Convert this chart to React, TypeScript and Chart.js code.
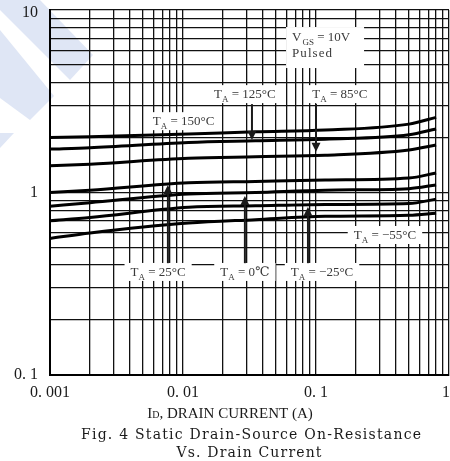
import React, { useEffect, useRef } from 'react';
import { Chart, registerables } from 'chart.js';

Chart.register(...registerables);

// ---- data ----
const currents = [0.001, 0.002, 0.011, 0.035, 0.117, 0.5, 0.8];
const r150 = [2.0, 2.02, 2.09, 2.15, 2.2, 2.37, 2.58];
const r125 = [1.73, 1.76, 1.88, 1.92, 1.96, 2.07, 2.23];
const r85 = [1.4, 1.43, 1.54, 1.57, 1.6, 1.71, 1.82];
const r25 = [1.0, 1.03, 1.13, 1.15, 1.17, 1.2, 1.28];
const r0 = [0.84, 0.88, 0.98, 1.0, 1.03, 1.05, 1.1];
const rm25 = [0.7, 0.73, 0.83, 0.845, 0.86, 0.87, 0.92];
const rm55 = [0.56, 0.6, 0.68, 0.71, 0.74, 0.75, 0.77];
const seriesNames = ['150°C', '125°C', '85°C', '25°C', '0℃', '−25°C', '−55°C'];
const seriesValues = [r150, r125, r85, r25, r0, rm25, rm55];

const xDecades = [0.001, 0.01, 0.1];
const yDecades = [0.1, 1];
const minorSteps = [1, 2, 3, 4, 5, 6, 7, 8, 9];
const xMajor = [0.001, 0.01, 0.1, 1];
const xTickLabels = ['0. 001', '0. 01', '0. 1', '1'];
const yMajor = [0.1, 1, 10];
const yTickLabels = ['0. 1', '1', '10'];

const xTitleMain = 'I';
const xTitleSub = 'D';
const xTitleRest = ', DRAIN CURRENT (A)';
const captionLines = ['Fig. 4 Static Drain-Source On-Resistance', 'Vs. Drain Current'];

// annotation anchors, in data units
const tempLabelNames = ['150°C', '125°C', '85°C', '25°C', '0℃', '−25°C', '−55°C'];
const tempLabelX = [0.0101, 0.0292, 0.151, 0.0065, 0.0292, 0.111, 0.33];
const tempLabelY = [2.46, 3.46, 3.46, 0.367, 0.367, 0.367, 0.585];
const arrowX = [0.033, 0.1, 0.0077, 0.0292, 0.087];
const arrowFrom = [3.05, 3.05, 0.41, 0.41, 0.41];
const arrowTo = [1.94, 1.67, 1.1, 0.957, 0.833];
const condX = 0.117;
const condLineY = [7.11, 5.81];

const SERIF = '"Liberation Serif", "DejaVu Serif", serif';
const WIDE_SERIF = '"DejaVu Serif", "Liberation Serif", serif';

function buildTicks(decades: number[], last: number) {
  const out: { value: number }[] = [];
  decades.forEach((d) => minorSteps.forEach((s) => out.push({ value: +(s * d).toPrecision(6) })));
  out.push({ value: last });
  return out;
}

function drawSpaced(ctx: CanvasRenderingContext2D, text: string, cx: number, y: number, target: number) {
  const anyCtx = ctx as any;
  const hasLS = 'letterSpacing' in anyCtx;
  if (hasLS) anyCtx.letterSpacing = '0px';
  const base = ctx.measureText(text).width;
  let sp = 0;
  if (hasLS && text.length > 1) {
    sp = (target - base) / (text.length - 1);
    anyCtx.letterSpacing = sp + 'px';
  }
  const w = base + sp * (text.length - 1);
  ctx.textAlign = 'left';
  ctx.fillText(text, cx - w / 2, y);
  if (hasLS) anyCtx.letterSpacing = '0px';
}

function drawTempLabel(ctx: CanvasRenderingContext2D, name: string, cx: number, cy: number) {
  ctx.font = '13px ' + SERIF;
  const wT = ctx.measureText('T').width;
  const rest = ' = ' + name;
  const wR = ctx.measureText(rest).width;
  ctx.font = '9px ' + SERIF;
  const wA = ctx.measureText('A').width;
  const total = wT + wA + wR;
  const padX = 6;
  const h = 18;
  ctx.fillStyle = '#ffffff';
  ctx.fillRect(cx - total / 2 - padX, cy - h / 2, total + padX * 2, h);
  ctx.fillStyle = '#3a3a3a';
  ctx.textBaseline = 'alphabetic';
  ctx.textAlign = 'left';
  let x = cx - total / 2;
  const base = cy + 4;
  ctx.font = '13px ' + SERIF;
  ctx.fillText('T', x, base);
  x += wT;
  ctx.font = '9px ' + SERIF;
  ctx.fillText('A', x, base + 4);
  x += wA;
  ctx.font = '13px ' + SERIF;
  ctx.fillText(rest, x, base);
}

const watermark = [
  [[0, 0], [40, 0], [93, 55], [70, 80], [0, 10]],
  [[0, 30], [54, 96], [30, 120], [0, 98]],
  [[0, 133], [14, 133], [0, 148]],
];

const overlay = {
  id: 'overlay',
  beforeDraw(chart: any) {
    const ctx: CanvasRenderingContext2D = chart.ctx;
    ctx.save();
    ctx.fillStyle = '#ffffff';
    ctx.fillRect(0, 0, chart.width, chart.height);
    ctx.fillStyle = '#dfe6f5';
    watermark.forEach((poly) => {
      ctx.beginPath();
      poly.forEach((p, i) => (i ? ctx.lineTo(p[0], p[1]) : ctx.moveTo(p[0], p[1])));
      ctx.closePath();
      ctx.fill();
    });
    ctx.restore();
  },
  afterDraw(chart: any) {
    const ctx: CanvasRenderingContext2D = chart.ctx;
    const xs = chart.scales.x;
    const ys = chart.scales.y;
    const area = chart.chartArea;
    ctx.save();

    // condition box
    const cx = xs.getPixelForValue(condX);
    const l1 = ys.getPixelForValue(condLineY[0]);
    const l2 = ys.getPixelForValue(condLineY[1]);
    ctx.fillStyle = '#ffffff';
    ctx.fillRect(cx - 39, l1 - 10, 78, l2 - l1 + 25);
    ctx.fillStyle = '#3a3a3a';
    ctx.textBaseline = 'alphabetic';
    ctx.textAlign = 'left';
    const left = cx - 33;
    ctx.font = '13px ' + SERIF;
    ctx.fillText('V', left, l1 + 4);
    const wV = ctx.measureText('V').width;
    ctx.font = '9px ' + SERIF;
    ctx.fillText('GS', left + wV + 1, l1 + 8);
    const wGS = ctx.measureText('GS').width;
    ctx.font = '13px ' + SERIF;
    ctx.fillText(' = 10V', left + wV + 1 + wGS, l1 + 4);
    drawSpaced(ctx, 'Pulsed', left + 20, l2 + 4, 40);

    // temperature labels
    tempLabelNames.forEach((n, i) => {
      drawTempLabel(ctx, n, xs.getPixelForValue(tempLabelX[i]), ys.getPixelForValue(tempLabelY[i]));
    });

    // arrows
    ctx.strokeStyle = '#1a1a1a';
    ctx.fillStyle = '#1a1a1a';
    ctx.lineWidth = 2;
    arrowX.forEach((v, i) => {
      const x = xs.getPixelForValue(v);
      const y0 = ys.getPixelForValue(arrowFrom[i]);
      const y1 = ys.getPixelForValue(arrowTo[i]);
      const dir = y1 > y0 ? 1 : -1;
      ctx.beginPath();
      ctx.moveTo(x, y0);
      ctx.lineTo(x, y1 - dir * 7);
      ctx.stroke();
      ctx.beginPath();
      ctx.moveTo(x, y1);
      ctx.lineTo(x - 4.5, y1 - dir * 9);
      ctx.lineTo(x + 4.5, y1 - dir * 9);
      ctx.closePath();
      ctx.fill();
    });

    // tick labels
    ctx.fillStyle = '#1a1a1a';
    ctx.font = '16px ' + SERIF;
    ctx.textBaseline = 'middle';
    ctx.textAlign = 'right';
    yMajor.forEach((v, i) => {
      ctx.fillText(yTickLabels[i], area.left - 12, ys.getPixelForValue(v) + (i === yMajor.length - 1 ? 3 : 0));
    });
    ctx.textAlign = 'center';
    xMajor.forEach((v, i) => {
      let px = xs.getPixelForValue(v);
      const w = ctx.measureText(xTickLabels[i]).width;
      if (px + w / 2 > chart.width) px = chart.width - w / 2;
      ctx.fillText(xTickLabels[i], px, area.bottom + 18);
    });

    // axis title
    ctx.textBaseline = 'alphabetic';
    ctx.textAlign = 'left';
    ctx.font = '15px ' + SERIF;
    const wI = ctx.measureText(xTitleMain).width;
    const wRest = ctx.measureText(xTitleRest).width;
    ctx.font = '10px ' + SERIF;
    const wD = ctx.measureText(xTitleSub).width;
    const tCenter = 230;
    let tx = tCenter - (wI + wD + wRest) / 2;
    const tBase = area.bottom + 43;
    ctx.font = '15px ' + SERIF;
    ctx.fillText(xTitleMain, tx, tBase);
    tx += wI;
    ctx.font = '10px ' + SERIF;
    ctx.fillText(xTitleSub, tx, tBase);
    tx += wD;
    ctx.font = '15px ' + SERIF;
    ctx.fillText(xTitleRest, tx, tBase);

    // caption
    ctx.font = '14px ' + WIDE_SERIF;
    drawSpaced(ctx, captionLines[0], 251, area.bottom + 64, 340);
    drawSpaced(ctx, captionLines[1], 249, area.bottom + 82, 145);
    ctx.restore();
  },
};

export default function App() {
  const ref = useRef<HTMLCanvasElement | null>(null);
  useEffect(() => {
    if (!ref.current) return;
    const datasets = seriesValues.map((vals, i) => ({
      label: seriesNames[i],
      data: currents.map((c, j) => ({ x: c, y: vals[j] })),
      borderColor: '#000000',
      borderWidth: 3,
      pointRadius: 0,
      fill: false,
      cubicInterpolationMode: 'monotone' as const,
    }));
    const chart = new Chart(ref.current, {
      type: 'line',
      data: { datasets },
      plugins: [overlay],
      options: {
        animation: false,
        responsive: true,
        maintainAspectRatio: false,
        layout: { padding: { left: 0, right: 1, top: 10, bottom: 0 } },
        plugins: { legend: { display: false }, tooltip: { enabled: false } },
        scales: {
          x: {
            type: 'logarithmic',
            min: 0.001,
            max: 1,
            afterBuildTicks: (s: any) => {
              s.ticks = buildTicks(xDecades, 1);
            },
            afterFit: (s: any) => {
              s.height = 86;
            },
            ticks: { display: false, autoSkip: false },
            grid: { color: '#111111', lineWidth: 1.3, drawTicks: false, tickLength: 0 },
            border: { display: true, color: '#000000', width: 2 },
          },
          y: {
            type: 'logarithmic',
            min: 0.1,
            max: 10,
            afterBuildTicks: (s: any) => {
              s.ticks = buildTicks(yDecades, 10);
            },
            afterFit: (s: any) => {
              s.width = 50;
            },
            ticks: { display: false, autoSkip: false },
            grid: { color: '#111111', lineWidth: 1.3, drawTicks: false, tickLength: 0 },
            border: { display: true, color: '#000000', width: 2 },
          },
        },
      },
    });
    return () => chart.destroy();
  }, []);
  return (
    <div style={{ position: 'fixed', left: 0, top: 0, width: 450, height: 461, background: '#fff' }}>
      <canvas ref={ref} />
    </div>
  );
}
